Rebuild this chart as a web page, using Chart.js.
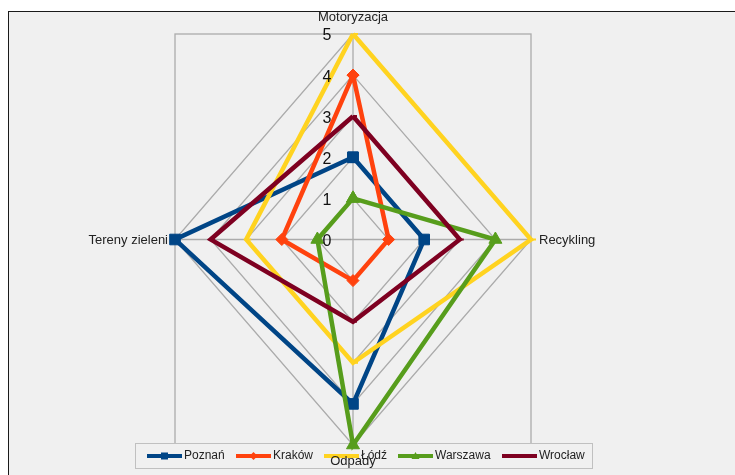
<!DOCTYPE html>
<html lang="pl">
<head>
  <meta charset="UTF-8">
  <title>Wykres radarowy - miasta</title>
  <script src="https://cdn.jsdelivr.net/npm/chart.js"></script>
  <style>
    html, body {
      margin: 0;
      background: #ffffff;
      overflow: hidden;
      width: 735px;
      height: 475px;
    }
    /* Panel wykresu (szare tło z czarną ramką) */
    #panel {
      position: absolute;
      left: 8px;
      top: 11px;
      width: 740px;
      height: 470px;
      border-left: 1px solid #1a1a1a;
      border-top: 1px solid #1a1a1a;
      background: #f0f0f0;
    }
    #radar {
      position: absolute;
      left: 0;
      top: 0;
    }
  </style>
</head>
<body>
  <div id="panel"></div>
  <canvas id="radar" width="735" height="475"></canvas>

  <script>
    // Dane
    const categories = ['Motoryzacja', 'Recykling', 'Odpady', 'Tereny zieleni'];
    const tickLabels = ['0', '1', '2', '3', '4', '5'];
    const seriesNames = ['Poznań', 'Kraków', 'Łódź', 'Warszawa', 'Wrocław'];
    const poznan = [2, 2, 4, 5];
    const krakow = [4, 1, 1, 2];
    const lodz = [5, 5, 3, 3];
    const warszawa = [1, 4, 5, 1];
    const wroclaw = [3, 3, 2, 4];

    const seriesValues = [poznan, krakow, lodz, warszawa, wroclaw];
    const colors = ['#004586', '#ff420e', '#ffd320', '#579d1c', '#7e0021'];
    const markers = ['rect', 'rectRot', 'dash', 'triangle', 'dash'];
    const markerSizes = [7.5, 6, 5, 7.5, 4];

    // kierunki osi: góra, prawo, dół, lewo
    const dirs = [[0, 1], [1, 0], [0, -1], [-1, 0]];
    const maxVal = 5;
    const FONT = '"Liberation Sans", Arial, sans-serif';

    function toPoints(vals) {
      const pts = vals.map((v, i) => ({ x: dirs[i][0] * v, y: dirs[i][1] * v }));
      pts.push(pts[0]);
      return pts;
    }

    const datasets = seriesValues.map((vals, i) => ({
      label: seriesNames[i],
      data: toPoints(vals),
      showLine: true,
      tension: 0,
      borderColor: colors[i],
      backgroundColor: colors[i],
      borderWidth: 4.5,
      pointStyle: markers[i],
      pointRadius: markerSizes[i],
      pointBorderWidth: markers[i] === 'dash' ? 2 : 1,
      pointBorderColor: colors[i],
      pointBackgroundColor: colors[i],
      clip: false,
      order: seriesNames.length - i
    }));

    // siatka, legenda i opisy osi
    const radarDecor = {
      id: 'radarDecor',
      beforeDatasetsDraw(chart) {
        const ctx = chart.ctx;
        const xs = chart.scales.x, ys = chart.scales.y;
        const px = v => xs.getPixelForValue(v);
        const py = v => ys.getPixelForValue(v);
        ctx.save();
        ctx.strokeStyle = '#ababab';
        ctx.lineWidth = 1.3;

        // ramka
        ctx.strokeRect(px(-maxVal), py(maxVal), px(maxVal) - px(-maxVal), py(-maxVal) - py(maxVal));

        // romby dla każdego poziomu
        for (let r = 1; r <= maxVal; r++) {
          ctx.beginPath();
          dirs.forEach((d, i) => {
            const x = px(d[0] * r), y = py(d[1] * r);
            if (i === 0) ctx.moveTo(x, y); else ctx.lineTo(x, y);
          });
          ctx.closePath();
          ctx.stroke();
        }

        // osie
        ctx.beginPath();
        ctx.moveTo(px(0), py(maxVal));
        ctx.lineTo(px(0), py(-maxVal));
        ctx.moveTo(px(-maxVal), py(0));
        ctx.lineTo(px(maxVal), py(0));
        ctx.stroke();

        // legenda
        ctx.lineWidth = 1;
        ctx.fillStyle = '#f0f0f0';
        ctx.fillRect(135.5, 443.5, 457, 25);
        ctx.strokeStyle = '#c0c0c0';
        ctx.strokeRect(135.5, 443.5, 457, 25);

        const legendX = [147, 236, 324, 398, 502];
        const ly = 456;
        ctx.font = '12px ' + FONT;
        ctx.textBaseline = 'middle';
        ctx.textAlign = 'left';
        seriesNames.forEach((name, i) => {
          const x0 = legendX[i];
          ctx.strokeStyle = colors[i];
          ctx.lineWidth = 4;
          ctx.beginPath();
          ctx.moveTo(x0, ly);
          ctx.lineTo(x0 + 35, ly);
          ctx.stroke();
          ctx.fillStyle = colors[i];
          if (markers[i] === 'rect') ctx.fillRect(x0 + 14, ly - 3.5, 7, 7);
          if (markers[i] === 'rectRot' || markers[i] === 'triangle') {
            ctx.beginPath();
            if (markers[i] === 'rectRot') {
              ctx.moveTo(x0 + 17.5, ly - 4); ctx.lineTo(x0 + 21.5, ly);
              ctx.lineTo(x0 + 17.5, ly + 4); ctx.lineTo(x0 + 13.5, ly);
            } else {
              ctx.moveTo(x0 + 17.5, ly - 4); ctx.lineTo(x0 + 21.5, ly + 3);
              ctx.lineTo(x0 + 13.5, ly + 3);
            }
            ctx.closePath();
            ctx.fill();
          }
          ctx.fillStyle = '#222222';
          ctx.fillText(name, x0 + 37, ly);
        });
        ctx.restore();
      },
      afterDatasetsDraw(chart) {
        const ctx = chart.ctx;
        const xs = chart.scales.x, ys = chart.scales.y;
        const px = v => xs.getPixelForValue(v);
        const py = v => ys.getPixelForValue(v);
        ctx.save();
        ctx.fillStyle = '#111111';

        // etykiety skali
        ctx.font = '16px ' + FONT;
        ctx.textAlign = 'center';
        ctx.textBaseline = 'middle';
        tickLabels.forEach((t, i) => {
          ctx.fillText(t, px(0) - 26, py(i) + 2);
        });

        // nazwy kategorii
        ctx.font = '13px ' + FONT;
        ctx.fillStyle = '#222222';
        ctx.textAlign = 'center';
        ctx.fillText(categories[0], px(0), py(maxVal) - 17);
        ctx.textAlign = 'left';
        ctx.fillText(categories[1], px(maxVal) + 8, py(0) + 1);
        ctx.textAlign = 'center';
        ctx.fillText(categories[2], px(0), py(-maxVal) + 16);
        ctx.textAlign = 'right';
        ctx.fillText(categories[3], px(-maxVal) - 7, py(0) + 1);
        ctx.restore();
      }
    };

    new Chart(document.getElementById('radar').getContext('2d'), {
      type: 'scatter',
      data: { datasets: datasets },
      options: {
        responsive: false,
        animation: false,
        layout: {
          padding: { left: 175, right: 204, top: 34, bottom: 30 }
        },
        scales: {
          x: { type: 'linear', min: -maxVal, max: maxVal, display: false },
          y: { type: 'linear', min: -maxVal, max: maxVal, display: false }
        },
        plugins: {
          legend: { display: false },
          tooltip: { enabled: false }
        }
      },
      plugins: [radarDecor]
    });
  </script>
</body>
</html>
